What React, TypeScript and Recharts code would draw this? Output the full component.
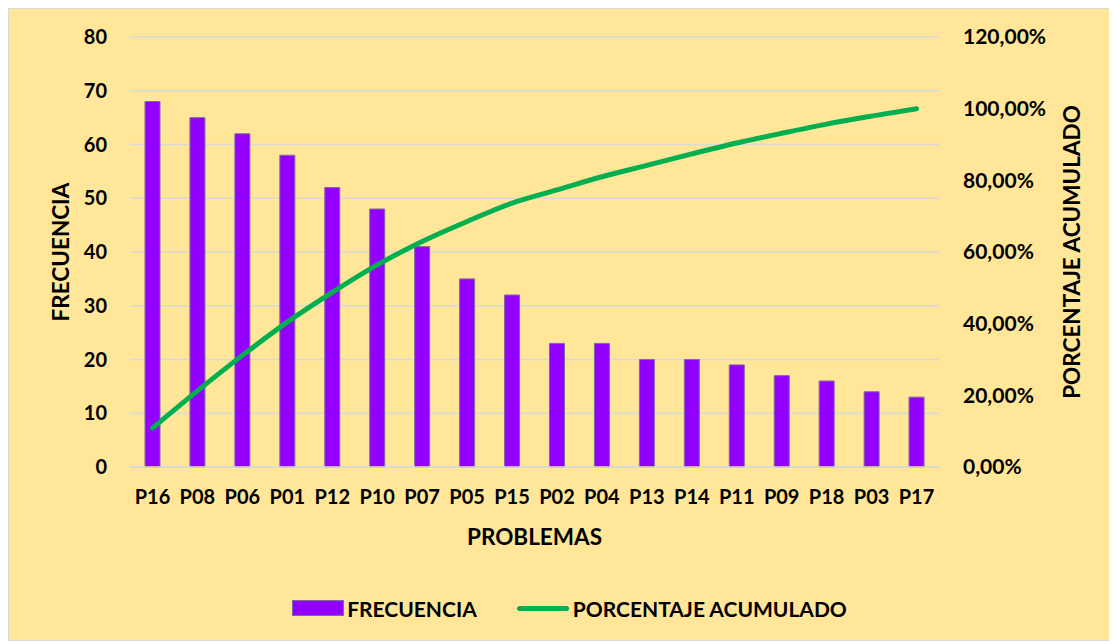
import {
  ComposedChart,
  Bar,
  Line,
  XAxis,
  YAxis,
  CartesianGrid,
  Legend,
  Text,
} from "recharts";

const PROBLEMS = ["P16", "P08", "P06", "P01", "P12", "P10", "P07", "P05", "P15", "P02", "P04", "P13", "P14", "P11", "P09", "P18", "P03", "P17"];
const FREQUENCY = [68, 65, 62, 58, 52, 48, 41, 35, 32, 23, 23, 20, 20, 19, 17, 16, 14, 13];
const CUMULATIVE_PCT = [10.86, 21.25, 31.15, 40.42, 48.72, 56.39, 62.94, 68.53, 73.64, 77.32, 80.99, 84.19, 87.38, 90.42, 93.13, 95.69, 97.92, 100];
const LEFT_TICKS = [0, 10, 20, 30, 40, 50, 60, 70, 80];
const RIGHT_TICKS = [0, 20, 40, 60, 80, 100, 120];

const data = PROBLEMS.map((p, i) => ({
  problema: p,
  frecuencia: FREQUENCY[i],
  acumulado: CUMULATIVE_PCT[i],
}));

const FONT = "Lato, 'Open Sans', sans-serif";
const INK = "#000";
const PURPLE = "#9400FF";
const GREEN = "#00B050";
const GRID = "#D9D9D9";

const tickStyle = { fill: INK, fontSize: 20, fontWeight: 700, fontFamily: FONT };
const titleStyle = { ...tickStyle, fontSize: 22.5 };

function pct(v: number): string {
  return `${v.toFixed(2).replace(".", ",")}%`;
}

// rotated axis title, shifted horizontally from the axis box centre
function axisTitle(text: string, shift: number) {
  return (props: any) => {
    const vb = props.viewBox || {};
    return (
      <Text
        x={vb.x + vb.width / 2 + shift}
        y={vb.y + vb.height / 2}
        angle={-90}
        textAnchor="middle"
        verticalAnchor="middle"
        style={titleStyle}
      >
        {text}
      </Text>
    );
  };
}

function LegendContent() {
  const label = { fontFamily: FONT, fontWeight: 700, fontSize: 21, color: INK };
  return (
    <div style={{ height: 83, display: "flex", justifyContent: "center", alignItems: "flex-start", paddingTop: 40, paddingLeft: 20, boxSizing: "border-box" }}>
      <div style={{ display: "flex", alignItems: "center", height: 22 }}>
        <span style={{ width: 52, height: 16, background: PURPLE, border: "1px solid #7F6A9F", boxSizing: "border-box", marginRight: 3 }} />
        <span style={label}>FRECUENCIA</span>
        <span style={{ width: 52, height: 5, borderRadius: 3, background: GREEN, marginLeft: 40, marginRight: 4 }} />
        <span style={label}>PORCENTAJE ACUMULADO</span>
      </div>
    </div>
  );
}

export default function App() {
  return (
    <div style={{ width: 1101, height: 631, border: "1px solid #D9D9D9", background: "#FFE699" }}>
      <ComposedChart width={1101} height={631} data={data} margin={{ top: 28, right: 0, bottom: 0, left: 0 }}>
        <CartesianGrid stroke={GRID} strokeWidth={1.5} vertical={false} yAxisId="left" />
        <XAxis
          dataKey="problema"
          height={90}
          axisLine={{ stroke: GRID, strokeWidth: 1.5 }}
          tickLine={false}
          tickSize={0}
          tickMargin={23}
          interval={0}
          tick={tickStyle}
          label={{ value: "PROBLEMAS", position: "insideBottom", offset: 12, style: titleStyle }}
        />
        <YAxis
          yAxisId="left"
          width={121}
          domain={[0, 80]}
          ticks={LEFT_TICKS}
          axisLine={false}
          tickLine={false}
          tickSize={0}
          tickMargin={23}
          tick={tickStyle}
          label={{ content: axisTitle("FRECUENCIA", -8) }}
        />
        <YAxis
          yAxisId="right"
          orientation="right"
          width={171}
          domain={[0, 120]}
          ticks={RIGHT_TICKS}
          axisLine={false}
          tickLine={false}
          tickSize={0}
          tickMargin={24}
          tick={{ ...tickStyle, fontSize: 21, textAnchor: "start" }}
          tickFormatter={pct}
          label={{ content: axisTitle("PORCENTAJE ACUMULADO", 48) }}
        />
        <Legend verticalAlign="bottom" content={<LegendContent />} />
        <Bar
          yAxisId="left"
          dataKey="frecuencia"
          name="FRECUENCIA"
          barSize={15}
          fill={PURPLE}
          stroke="#7F6A9F"
          strokeWidth={1}
          isAnimationActive={false}
        />
        <Line
          yAxisId="right"
          type="monotone"
          dataKey="acumulado"
          name="PORCENTAJE ACUMULADO"
          stroke={GREEN}
          strokeWidth={5}
          strokeLinecap="round"
          dot={false}
          activeDot={false}
          isAnimationActive={false}
        />
      </ComposedChart>
    </div>
  );
}
